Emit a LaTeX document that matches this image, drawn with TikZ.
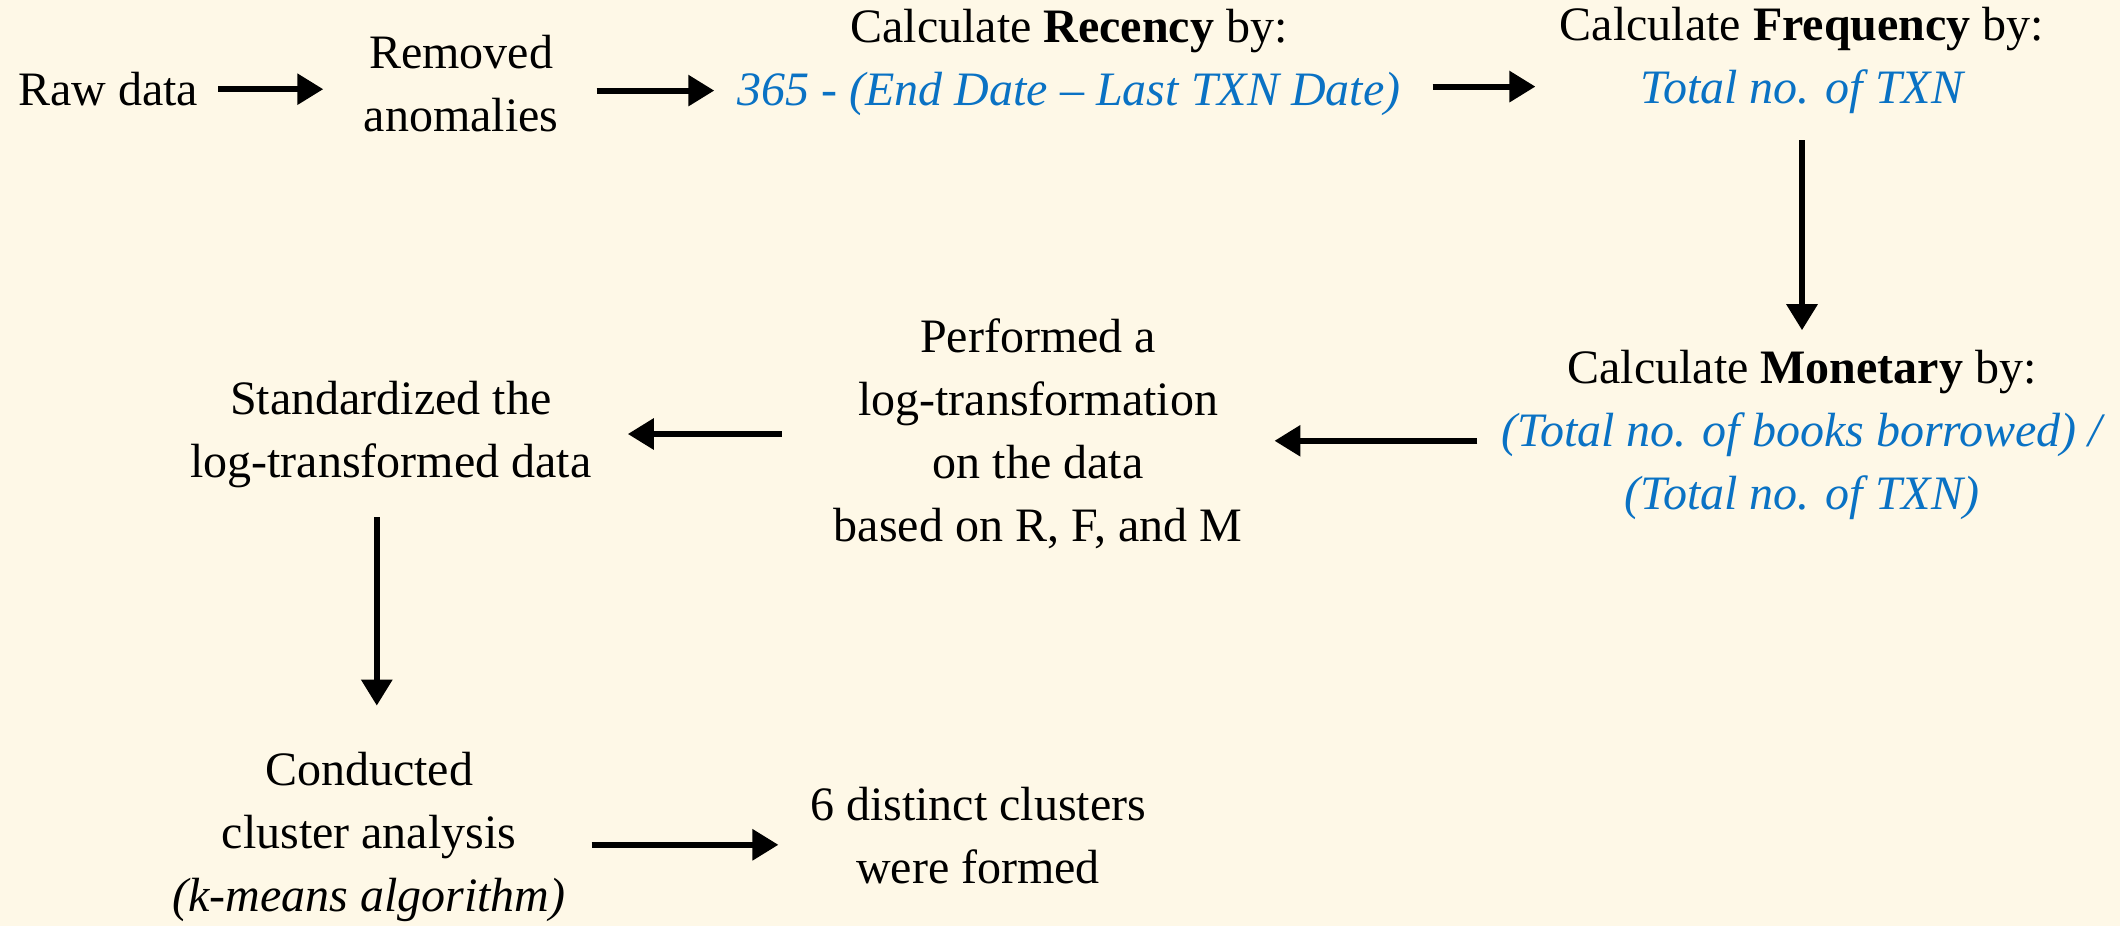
\documentclass[tikz,border=0pt]{standalone}
\usepackage{fontspec}
\setmainfont{Liberation Serif}
\usetikzlibrary{arrows.meta}
\definecolor{bgc}{HTML}{FEF8E7}
\definecolor{blu}{HTML}{0A72C4}
\begin{document}
\begin{tikzpicture}[x=1pt,y=1pt,
  txt/.style={inner sep=0pt, align=center, font=\fontsize{24}{31.5}\selectfont},
  arr/.style={line width=3pt, -{Triangle[length=13pt,width=15pt]}}]
\fill[bgc] (0,0) rectangle (1060,-463);
\useasboundingbox (0,0) rectangle (1060,-463);
\newcommand{\bi}[1]{\textcolor{blu}{\itshape #1}}
\node[txt] (raw) at (54,-44.6) {Raw data};
\node[txt] (rem) at (230.5,-41.6) {Removed\\anomalies};
\node[txt] (rec) at (534.5,-31) {Calculate \textbf{Recency} by:\\\bi{365 - (End Date – Last TXN Date)}};
\node[txt] (freq) at (901,-30.4) {Calculate \textbf{Frequency} by:\\\bi{Total no. of TXN}};
\node[txt] (mon) at (901,-217.7) {Calculate \textbf{Monetary} by:\\\bi{(Total no. of books borrowed) /}\\\bi{(Total no. of TXN)}};
\node[txt] (perf) at (519,-217) {Performed a\\log-transformation\\on the data\\based on R, F, and M};
\node[txt] (std) at (195.4,-217.3) {Standardized the\\log-transformed data};
\node[txt] (cond) at (184.5,-418.4) {Conducted\\cluster analysis\\\textit{(k-means algorithm)}};
\node[txt] (six) at (489,-418) {6 distinct clusters\\were formed};
\draw[arr, shorten <=10pt, shorten >=20pt] (raw.east) -- (raw.east -| rem.west);
\draw[arr, shorten <=19pt, shorten >=11.5pt] ([yshift=-3.7pt]rem.east) -- ([yshift=-3.7pt]rem.east -| rec.west);
\draw[arr, shorten <=16pt, shorten >=12pt] ([yshift=-12.3pt]rec.east) -- ([yshift=-12.3pt]rec.east -| freq.west);
\draw[arr, shorten <=13pt, shorten >=10pt] (freq.south) -- (mon.north);
\draw[arr, shorten <=12pt, shorten >=16pt] ([yshift=-2.7pt]mon.west) -- ([yshift=-2.7pt]mon.west -| perf.east);
\draw[arr, shorten <=26pt, shorten >=18pt] (perf.west) -- (perf.west -| std.east);
\draw[arr, shorten <=14.4pt, shorten >=23pt] ([xshift=-7pt]std.south) -- ([xshift=-7pt]std.south |- cond.north);
\draw[arr, shorten <=12.8pt, shorten >=15.6pt] ([yshift=-4pt]cond.east) -- ([yshift=-4pt]cond.east -| six.west);
\end{tikzpicture}
\end{document}
